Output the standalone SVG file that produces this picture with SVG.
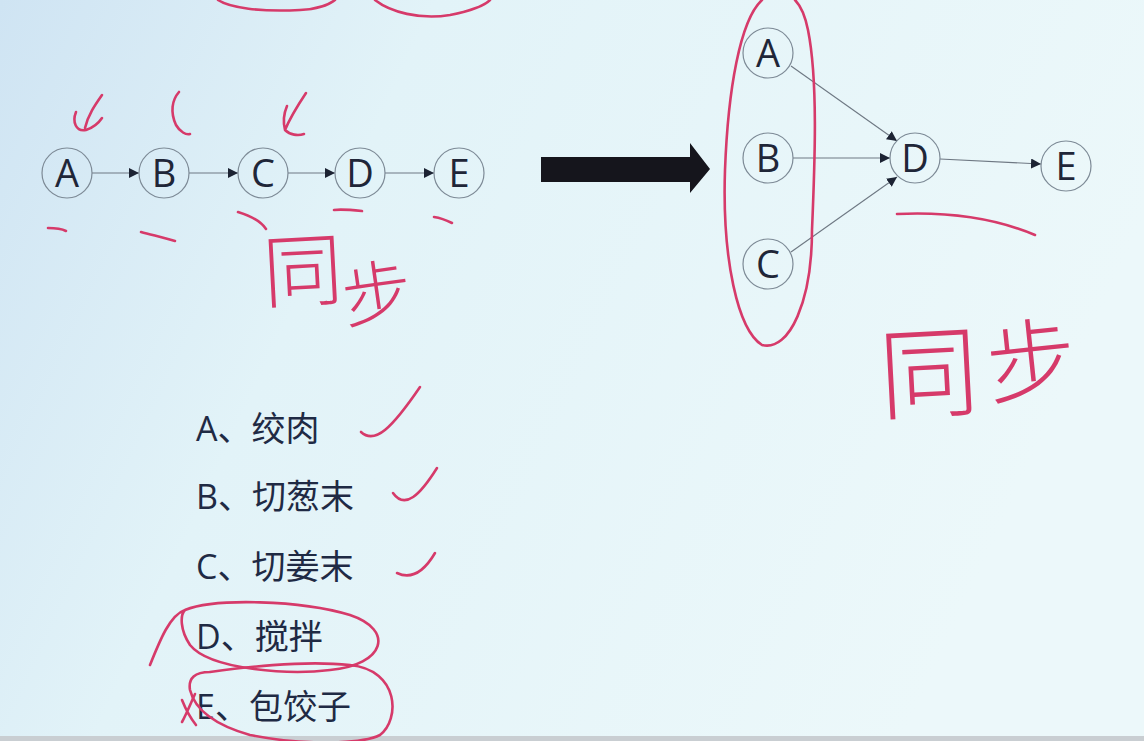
<svg xmlns="http://www.w3.org/2000/svg" width="1144" height="741" viewBox="0 0 1144 741">
<defs>
<linearGradient id="bg" x1="0" y1="0" x2="1" y2="0.3">
<stop offset="0" stop-color="#cfe4f3"/>
<stop offset="0.35" stop-color="#e2f3f8"/>
<stop offset="1" stop-color="#ecf8fa"/>
</linearGradient>
<marker id="ah" viewBox="0 0 10 10" refX="10" refY="5" markerWidth="10" markerHeight="10" markerUnits="userSpaceOnUse" orient="auto">
<path d="M0,0 L10,5 L0,10 Z" fill="#1c2333"/>
</marker>
<style>
.node circle{fill:none;stroke:#7d8a96;stroke-width:1.2}
.node text{font-family:"Open Sans","Liberation Sans",sans-serif;font-size:38px;fill:#1f2638;text-anchor:middle}
.conn line{stroke:#6e7883;stroke-width:1.1;marker-end:url(#ah)}
.item{font-family:"Open Sans","Noto Sans CJK SC",sans-serif;font-size:34px;fill:#1f2a44}
.pink{fill:none;stroke:#d63a6a;stroke-width:2.6;stroke-linecap:round;stroke-linejoin:round}
.hw{font-family:"Noto Sans CJK SC",sans-serif;fill:#d63a6a;font-weight:300}
</style>
</defs>
<rect width="1144" height="741" fill="url(#bg)"/>
<rect y="736" width="1144" height="5" fill="#c9ced2"/>

<g class="conn">
<line x1="92" y1="173" x2="139" y2="173"/>
<line x1="189" y1="173" x2="238" y2="173"/>
<line x1="288" y1="173" x2="335" y2="173"/>
<line x1="385" y1="173" x2="434" y2="173"/>
<line x1="791" y1="66" x2="897" y2="141"/>
<line x1="793" y1="158" x2="890" y2="158"/>
<line x1="791" y1="252" x2="897" y2="177"/>
<line x1="940" y1="159" x2="1041" y2="164"/>
</g>
<g id="nA1" class="node"><circle cx="67" cy="173" r="25"/><text x="67" y="187">A</text></g>
<g id="nB1" class="node"><circle cx="164" cy="173" r="25"/><text x="164" y="187">B</text></g>
<g id="nC1" class="node"><circle cx="263" cy="173" r="25"/><text x="263" y="187">C</text></g>
<g id="nD1" class="node"><circle cx="360" cy="173" r="25"/><text x="360" y="187">D</text></g>
<g id="nE1" class="node"><circle cx="459" cy="173" r="25"/><text x="459" y="187">E</text></g>

<path id="bigArrow" d="M541,157 L690,157 L690,143 L710,169 L690,193 L690,182 L541,182 Z" fill="#15151c"/>

<g id="nA2" class="node"><circle cx="768" cy="53" r="25"/><text x="768" y="67">A</text></g>
<g id="nB2" class="node"><circle cx="768" cy="158" r="25"/><text x="768" y="172">B</text></g>
<g id="nC2" class="node"><circle cx="768" cy="264" r="25"/><text x="768" y="278">C</text></g>
<g id="nD2" class="node"><circle cx="915" cy="158" r="25"/><text x="915" y="172">D</text></g>
<g id="nE2" class="node"><circle cx="1066" cy="166" r="25"/><text x="1066" y="180">E</text></g>

<g id="list">
<text class="item" x="196" y="441">A、绞肉</text>
<text class="item" x="196" y="509">B、切葱末</text>
<text class="item" x="196" y="579">C、切姜末</text>
<text class="item" x="196" y="649">D、搅拌</text>
<text class="item" x="196" y="719">E、包饺子</text>
</g>

<g id="annotations">
<path class="pink" d="M218,0 C230,8 260,12 300,10 C318,9 330,4 335,0"/>
<path class="pink" d="M375,0 C390,12 420,20 450,15 C470,11 485,5 490,0"/>
<path class="pink" d="M102,95 C95,105 88,115 85,128 M76,112 C72,122 76,132 86,130 C92,128 98,124 102,118"/>
<path class="pink" d="M179,92 C172,100 170,112 176,125 C180,132 186,135 190,134"/>
<path class="pink" d="M306,93 C298,105 290,118 285,130 C290,135 298,136 304,134 M285,130 C283,122 284,113 287,106"/>
<path class="pink" d="M48,228 C55,228 62,229 66,231"/>
<path class="pink" d="M141,232 C152,235 165,238 175,241"/>
<path class="pink" d="M238,212 C248,215 260,220 266,229"/>
<path class="pink" d="M334,210 C342,209 352,210 362,211"/>
<path class="pink" d="M434,217 C441,218 448,221 452,223"/>
<path class="pink" d="M762,0 C740,20 728,90 725,170 C722,260 738,330 762,345 C790,352 812,300 812,230 C815,160 818,80 808,30 C805,15 800,5 795,0"/>
<path class="pink" d="M897,214 C940,212 990,216 1035,235"/>
<path class="pink" d="M361,432 C375,445 392,428 420,387"/>
<path class="pink" d="M393,493 C405,510 420,495 437,468"/>
<path class="pink" d="M397,573 C412,580 425,570 435,553"/>
<path class="pink" d="M150,665 C160,640 170,615 185,610 C215,598 300,600 350,615 C395,630 385,665 330,670 C290,675 210,670 190,645 C180,630 180,615 185,610"/>
<path class="pink" d="M210,672 C240,668 300,660 350,665 C400,670 400,720 380,735 C360,745 300,745 250,735 C215,725 195,710 190,690 C188,678 195,672 210,672"/>
<path class="pink" d="M182,700 C186,710 192,720 196,725 M195,694 C190,705 186,715 182,722"/>
<text class="hw" x="262" y="300" font-size="80" transform="rotate(-3 300 260)">同</text>
<text class="hw" x="340" y="320" font-size="70" transform="rotate(-8 370 280)">步</text>
<text class="hw" x="878" y="410" font-size="100" transform="rotate(-3 920 360)">同</text>
<text class="hw" x="985" y="395" font-size="90" transform="rotate(-6 1020 350)">步</text>
</g>
</svg>
